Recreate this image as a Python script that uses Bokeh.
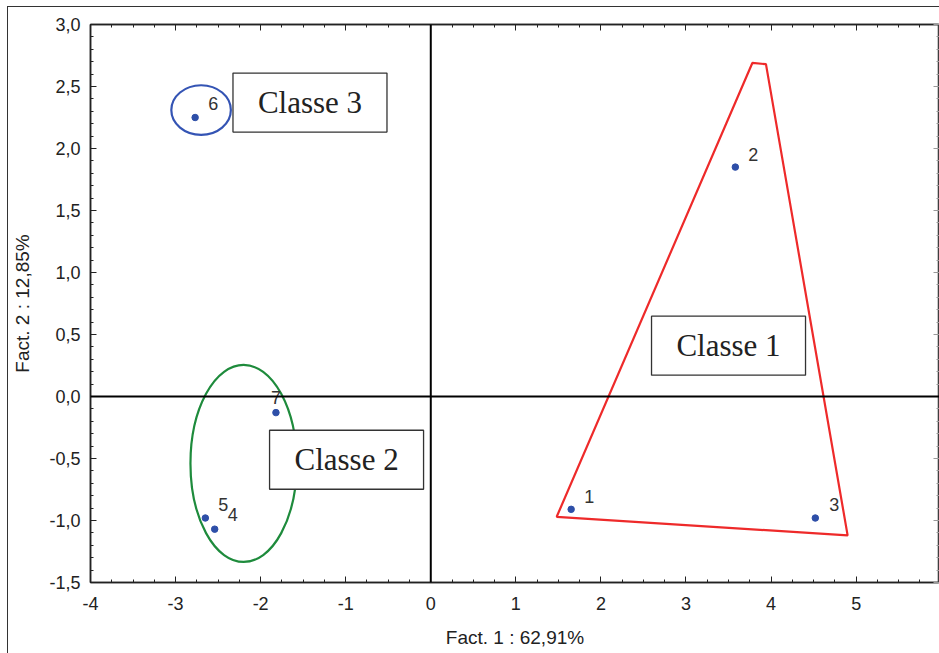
from bokeh.plotting import figure
from bokeh.models import (Range1d, LinearAxis, FixedTicker, CustomJSTickFormatter,
                          Span, ColumnDataSource, InlineStyleSheet)
from bokeh.core.properties import value
from bokeh.embed import file_html
from bokeh.resources import INLINE

# ---- data ----
pt_labels = ["1", "2", "3", "4", "5", "6", "7"]
pt_x = [1.65, 3.58, 4.52, -2.54, -2.65, -2.77, -1.82]
pt_y = [-0.91, 1.85, -0.98, -1.07, -0.98, 2.25, -0.13]

class_names = ["Classe 1", "Classe 2", "Classe 3"]
class_x = [3.50, -0.99, -1.42]
class_y = [0.41, -0.51, 2.37]

ell_x = [-2.70, -2.20]
ell_y = [2.31, -0.54]
ell_w = [0.70, 1.25]
ell_h = [0.40, 1.59]

hull_x = [1.48, 3.78, 3.94, 4.90]
hull_y = [-0.97, 2.69, 2.68, -1.12]

x_ticks = [-4, -3, -2, -1, 0, 1, 2, 3, 4, 5, 6]
y_ticks = [-1.5, -1.0, -0.5, 0.0, 0.5, 1.0, 1.5, 2.0, 2.5, 3.0]
x_minor = [i * 0.25 for i in range(-16, 25)]
y_minor = [round(i * 0.1, 2) for i in range(-15, 31)]

x_title = "Fact. 1 : 62,91%"
y_title = "Fact. 2 : 12,85%"

# label offsets (screen px)
lab_dx = [18, 18, 19, 18, 18, 18, 0]
lab_dy = [-13, -13, -14, -15, -14, -14, -15]

FONT = "Liberation Sans"

p = figure(width=939, height=653, output_backend="svg", toolbar_location=None,
           x_range=Range1d(-4, 5.98), y_range=Range1d(-1.5, 3.0),
           min_border_left=90, min_border_right=0, min_border_top=24,
           min_border_bottom=71, x_axis_location=None, y_axis_location=None)
p.grid.visible = False
p.outline_line_color = "#222222"
p.outline_line_width = 1.5
p.background_fill_color = "white"
p.border_fill_color = "white"
# outer picture border (only its left and top edges fall inside the window)
p.stylesheets = [InlineStyleSheet(css=(
    ":host::after { content: ''; position: absolute; left: 7px; top: 6px; "
    "right: -20px; bottom: -20px; border: 1.5px solid #333333; "
    "pointer-events: none; z-index: 1000; }"))]

xfmt = CustomJSTickFormatter(code="return tick.toFixed(0);")
yfmt = CustomJSTickFormatter(code="return tick.toFixed(1).replace('.', ',');")
blank = CustomJSTickFormatter(code="return '';")


def style_axis(ax, labels=True):
    ax.axis_line_color = "#222222"
    ax.axis_line_width = 1.5
    ax.major_tick_line_color = "#222222"
    ax.minor_tick_line_color = "#222222"
    ax.major_tick_in = 6
    ax.major_tick_out = 0
    ax.minor_tick_in = 3
    ax.minor_tick_out = 0
    ax.major_label_text_font = FONT
    ax.major_label_text_font_size = "18px"
    ax.major_label_text_color = "#222222"
    ax.axis_label_text_font = FONT
    ax.axis_label_text_font_size = "19px"
    ax.axis_label_text_font_style = "normal"
    ax.axis_label_text_color = "#222222"
    if not labels:
        ax.major_label_text_font_size = "0px"


xb = LinearAxis(ticker=FixedTicker(ticks=x_ticks, minor_ticks=x_minor), formatter=xfmt,
                axis_label=x_title)
style_axis(xb)
xb.major_label_standoff = 14
xb.axis_label_standoff = 14
p.add_layout(xb, "below")

yl = LinearAxis(ticker=FixedTicker(ticks=y_ticks, minor_ticks=y_minor), formatter=yfmt,
                axis_label=y_title)
style_axis(yl)
yl.major_label_standoff = 10
yl.axis_label_standoff = 13
p.add_layout(yl, "left")

xt = LinearAxis(ticker=FixedTicker(ticks=x_ticks, minor_ticks=x_minor), formatter=blank)
style_axis(xt, labels=False)
xt.major_label_standoff = 0
p.add_layout(xt, "above")

yr = LinearAxis(ticker=FixedTicker(ticks=y_ticks, minor_ticks=y_minor), formatter=blank)
style_axis(yr, labels=False)
yr.major_label_standoff = 0
yr.major_tick_line_color = "#999999"
yr.minor_tick_line_color = "#999999"
yr.axis_line_color = "#999999"
p.add_layout(yr, "right")

# origin lines
p.add_layout(Span(location=0, dimension="height", line_color="black", line_width=2))
p.add_layout(Span(location=0, dimension="width", line_color="black", line_width=2))

# red hull
p.patch(hull_x, hull_y, fill_alpha=0, line_color="#EE2A2A", line_width=2.2)

# ellipses
p.ellipse(x=ell_x, y=ell_y, width=ell_w, height=ell_h, fill_alpha=0,
          line_color=["#3454B4", "#1E8B3C"], line_width=2.2)

# class boxes
cls = ColumnDataSource(dict(x=class_x, y=class_y, t=class_names))
p.rect(x="x", y="y", width=154, height=59, width_units="screen", height_units="screen",
       source=cls, fill_color="white", line_color="#333333", line_width=1.3)
p.text(x="x", y="y", text="t", source=cls, text_font=value("Liberation Serif"),
       text_font_size="31px", text_color="#222222", text_align="center",
       text_baseline="middle")

# points
pts = ColumnDataSource(dict(x=pt_x, y=pt_y, t=pt_labels, dx=lab_dx, dy=lab_dy))
p.scatter(x="x", y="y", source=pts, size=6.5, fill_color="#2E4FA8", line_color="#2E4FA8")
p.text(x="x", y="y", text="t", source=pts, x_offset="dx", y_offset="dy",
       text_font=value(FONT), text_font_size="18px", text_color="#333333",
       text_align="center", text_baseline="middle")

open("out.html", "w").write(file_html(p, INLINE))
